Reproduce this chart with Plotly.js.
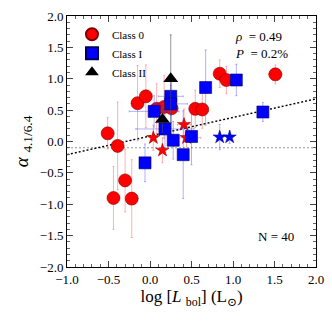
<!DOCTYPE html>
<html>
<head>
<meta charset="utf-8">
<script src="https://cdn.plot.ly/plotly-3.0.1.min.js"></script>
<style>
  body { margin: 0; background: #fff; }
  #chart { width: 332px; height: 332px; }
</style>
</head>
<body>
<div id="chart"></div>
<script>
// Class 0 (red circles)
const c0X   = [-0.51, -0.39, -0.15, -0.05, -0.44, -0.30, -0.22, 0.08, 0.17, 0.26, 0.545, 0.63, 0.84, 0.92, 1.51];
const c0Y   = [0.13, -0.07, 0.61, 0.72, -0.90, -0.62, -0.91, 0.52, 0.55, 0.53, 0.52, 0.51, 1.08, 0.98, 1.07];
const c0Ey  = [0.25, 0.70, 0.60, 0.50, 0.50, 0.50, 0.62, 0.40, 0.50, 0.45, 0.30, 0.30, 0.22, 0.22, 0.15];
const c0Ex  = [0.00, 0.05, 0.00, 0.00, 0.00, 0.00, 0.00, 0.00, 0.05, 0.05, 0.00, 0.00, 0.00, 0.00, 0.08];

// Class I (blue squares)
const c1X   = [0.05, 0.25, 0.25, 0.67, 1.04, 1.36, 0.18, 0.28, 0.50, 0.40, -0.06];
const c1Y   = [0.48, 0.72, 0.60, 0.86, 0.98, 0.47, 0.20, 0.02, 0.08, -0.21, -0.34];
const c1Ey  = [0.25, 0.30, 0.30, 0.60, 0.25, 0.15, 0.30, 0.30, 0.45, 0.70, 0.30];
const c1Ex  = [0.30, 0.15, 0.20, 0.05, 0.00, 0.00, 0.35, 0.00, 0.05, 0.00, 0.00];

// Class II (black triangles)
const c2X   = [0.25, 0.15];
const c2Y   = [1.00, 0.35];
const c2Ey  = [0.70, 0.20];

// starred sources (not in legend)
const redStarX  = [0.04, 0.15, 0.41, 0.44];
const redStarY  = [0.06, -0.14, 0.27, 0.06];
const redStarEy = [0.20, 0.20, 0.25, 0.15];
const redStarEx = [0.00, 0.00, 0.08, 0.17];
const blueStarX  = [0.84, 0.96];
const blueStarY  = [0.07, 0.07];
const blueStarEy = [0.20, 0.10];

// fit line and reference level
const fitX = [-1.0, 2.0];
const fitY = [-0.21, 0.68];
const refLevel = -0.1;

const serif = 'Liberation Serif, DejaVu Serif, serif';
const redBar = 'rgba(255,60,60,0.4)';
const blueBar = 'rgba(60,60,255,0.4)';

function errY(arr, col) {
    return { type: 'data', array: arr, visible: true, color: col, thickness: 1, width: 1 };
}

const traces = [
    {
        x: fitX, y: fitY, mode: 'lines', showlegend: false, hoverinfo: 'skip',
        line: { color: '#000', width: 1.4, dash: '2px,2px' }
    },
    {
        x: redStarX, y: redStarY, mode: 'markers', showlegend: false,
        error_y: errY(redStarEy, redBar), error_x: errY(redStarEx, redBar),
        marker: { symbol: 'star', size: 10, color: '#ff0000', line: { color: '#800000', width: 0.5 } }
    },
    {
        x: blueStarX, y: blueStarY, mode: 'markers', showlegend: false,
        error_y: errY(blueStarEy, blueBar),
        marker: { symbol: 'star', size: 10, color: '#0000ff', line: { color: '#000080', width: 0.5 } }
    },
    {
        x: c0X, y: c0Y, mode: 'markers', name: 'Class 0',
        error_y: errY(c0Ey, redBar), error_x: errY(c0Ex, redBar),
        marker: { symbol: 'circle', size: 13, color: '#ff0000', line: { color: '#800000', width: 0.6 } }
    },
    {
        x: c1X, y: c1Y, mode: 'markers', name: 'Class I',
        error_y: errY(c1Ey, blueBar), error_x: errY(c1Ex, blueBar),
        marker: { symbol: 'square', size: 12, color: '#0000ff', line: { color: '#000060', width: 0.6 } }
    },
    {
        x: c2X, y: c2Y, mode: 'markers', name: 'Class II',
        error_y: errY(c2Ey, 'rgba(80,80,80,0.6)'),
        marker: { symbol: 'triangle-up', size: 13, color: '#000000' }
    }
];

const axisCommon = {
    showgrid: false, zeroline: false, showline: true, linecolor: '#000', linewidth: 1,
    mirror: 'allticks', ticks: 'inside', ticklen: 6, tickcolor: '#444', tickwidth: 1,
    tickformat: '.1f', tickfont: { family: serif, size: 13, color: '#000' },
    minor: { ticks: 'inside', ticklen: 3, dtick: 0.1, tickcolor: '#666', tickwidth: 1 }
};

const layout = {
    width: 332, height: 332,
    margin: { l: 67, r: 16, t: 16, b: 65 },
    paper_bgcolor: '#fff', plot_bgcolor: '#fff',
    font: { family: serif, color: '#000' },
    xaxis: Object.assign({}, axisCommon, {
        range: [-1, 2], dtick: 0.5, tick0: 0,
        title: { text: 'log [<i>L</i> <sub>bol</sub>] (L<sub>\u2299</sub>)', font: { family: serif, size: 17 }, standoff: 4 }
    }),
    yaxis: Object.assign({}, axisCommon, {
        range: [-2, 2], dtick: 0.5, tick0: 0,
        title: { text: '<i>\u03b1</i> <sub>4.1/6.4</sub>', font: { family: serif, size: 19 }, standoff: 6 }
    }),
    showlegend: true,
    legend: {
        x: 0.02, y: 0.985, xanchor: 'left', yanchor: 'top',
        bgcolor: 'rgba(0,0,0,0)', borderwidth: 0,
        font: { family: serif, size: 11, color: '#000' },
        itemsizing: 'constant', tracegroupgap: 0
    },
    shapes: [{
        type: 'line', xref: 'paper', x0: 0, x1: 1, yref: 'y', y0: refLevel, y1: refLevel,
        line: { color: '#777', width: 0.8, dash: '2px,2px' }, layer: 'below'
    }],
    annotations: [
        { x: 1.0, y: 1.67, xanchor: 'left', yanchor: 'middle', showarrow: false,
          text: '<i>\u03c1</i>  = 0.49', font: { family: serif, size: 13 } },
        { x: 1.0, y: 1.41, xanchor: 'left', yanchor: 'middle', showarrow: false,
          text: '<i>P</i>  = 0.2%', font: { family: serif, size: 13 } },
        { x: 1.52, y: -1.52, xanchor: 'center', yanchor: 'middle', showarrow: false,
          text: 'N = 40', font: { family: serif, size: 13 } }
    ]
};

Plotly.newPlot('chart', traces, layout, { staticPlot: true, displayModeBar: false });
</script>
</body>
</html>
